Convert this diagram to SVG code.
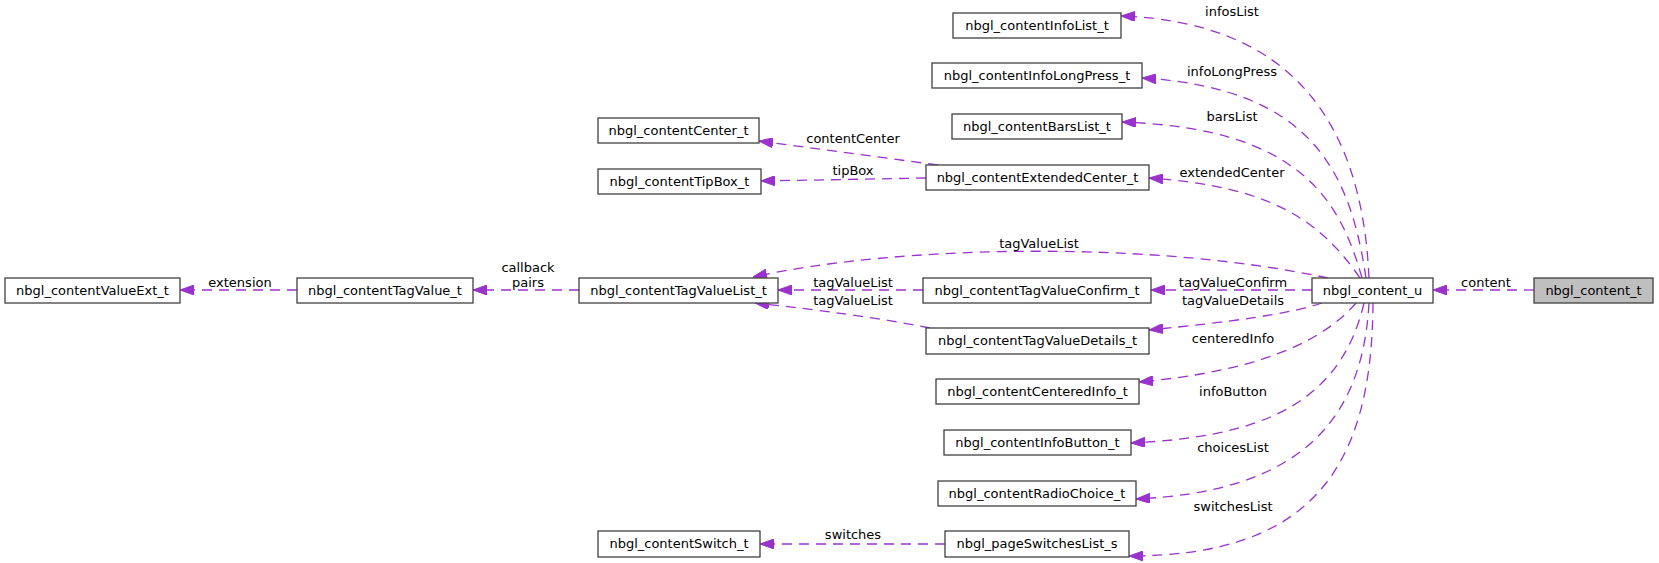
<svg xmlns="http://www.w3.org/2000/svg" width="1659" height="563" viewBox="0 0 1659 563">
<style>
.node rect{fill:#fff;stroke:#404040;stroke-width:1.3}
.node.main rect{fill:#bfbfbf}
text{font-family:"DejaVu Sans",sans-serif;font-size:13px;fill:#000}
.node text{text-anchor:middle}
.edges path{fill:none;stroke:#9a32cd;stroke-width:1.3;stroke-dasharray:10,7}
.lbl text{text-anchor:middle}
</style>
<defs>
<marker id="ah" viewBox="0 0 14 10" refX="14" refY="5" markerWidth="14" markerHeight="10" markerUnits="userSpaceOnUse" orient="auto">
<path d="M0,0 L14,5 L0,10 z" fill="#9a32cd" stroke="#9a32cd" stroke-width="1"/>
</marker>
</defs>
<rect width="1659" height="563" fill="#fff"/>
<g class="edges">
<path marker-end="url(#ah)" d="M1369,278 C1362,120 1290,22 1121,16"/>
<path marker-end="url(#ah)" d="M1366,278 C1350,170 1310,88 1142,78"/>
<path marker-end="url(#ah)" d="M1362,278 C1340,200 1300,128 1122,122"/>
<path marker-end="url(#ah)" d="M1360,278 C1320,220 1270,186 1149,178"/>
<path marker-end="url(#ah)" d="M1328,278 C1150,240 900,245 753,277"/>
<path marker-end="url(#ah)" d="M1312,290 L1151,290"/>
<path marker-end="url(#ah)" d="M1322,303 C1290,314 1230,322 1149,330"/>
<path marker-end="url(#ah)" d="M1356,303 C1320,345 1250,372 1139,382"/>
<path marker-end="url(#ah)" d="M1364,303 C1340,405 1260,437 1131,443"/>
<path marker-end="url(#ah)" d="M1369,303 C1362,430 1290,492 1136,499"/>
<path marker-end="url(#ah)" d="M1373,303 C1372,470 1310,556 1129,556"/>
<path marker-end="url(#ah)" d="M1534,290 L1433,290"/>
<path marker-end="url(#ah)" d="M938,165 L759,141"/>
<path marker-end="url(#ah)" d="M926,178 L761,181"/>
<path marker-end="url(#ah)" d="M923,290 L778,290"/>
<path marker-end="url(#ah)" d="M930,328 C880,318 820,310 755,303"/>
<path marker-end="url(#ah)" d="M579,290 L473,290"/>
<path marker-end="url(#ah)" d="M297,290 L180,290"/>
<path marker-end="url(#ah)" d="M945,544 L760,544"/>
</g>
<g class="lbl">
<text x="1232" y="16">infosList</text>
<text x="1232" y="76">infoLongPress</text>
<text x="1232" y="121">barsList</text>
<text x="1232" y="177">extendedCenter</text>
<text x="1039" y="248">tagValueList</text>
<text x="1233" y="287">tagValueConfirm</text>
<text x="1233" y="305">tagValueDetails</text>
<text x="1233" y="343">centeredInfo</text>
<text x="1233" y="396">infoButton</text>
<text x="1233" y="452">choicesList</text>
<text x="1233" y="511">switchesList</text>
<text x="1486" y="287">content</text>
<text x="853" y="143">contentCenter</text>
<text x="853" y="175">tipBox</text>
<text x="853" y="287">tagValueList</text>
<text x="853" y="305">tagValueList</text>
<text x="528" y="272">callback</text>
<text x="528" y="287">pairs</text>
<text x="240" y="287">extension</text>
<text x="853" y="539">switches</text>
</g>
<g id="n_content_t" class="node main"><rect x="1534" y="278" width="119" height="25"/><text x="1593.5" y="295">nbgl_content_t</text></g>
<g id="n_content_u" class="node"><rect x="1312" y="278" width="121" height="25"/><text x="1372.5" y="295">nbgl_content_u</text></g>
<g id="n_infoList" class="node"><rect x="953" y="13" width="168" height="25"/><text x="1037" y="30">nbgl_contentInfoList_t</text></g>
<g id="n_infoLongPress" class="node"><rect x="932" y="63" width="210" height="25"/><text x="1037" y="80">nbgl_contentInfoLongPress_t</text></g>
<g id="n_barsList" class="node"><rect x="952" y="114" width="170" height="25"/><text x="1037" y="131">nbgl_contentBarsList_t</text></g>
<g id="n_extendedCenter" class="node"><rect x="926" y="165" width="223" height="25"/><text x="1037.5" y="182">nbgl_contentExtendedCenter_t</text></g>
<g id="n_center" class="node"><rect x="598" y="118" width="161" height="25"/><text x="678.5" y="135">nbgl_contentCenter_t</text></g>
<g id="n_tipBox" class="node"><rect x="598" y="169" width="163" height="25"/><text x="679.5" y="186">nbgl_contentTipBox_t</text></g>
<g id="n_tagValueConfirm" class="node"><rect x="923" y="278" width="228" height="25"/><text x="1037" y="295">nbgl_contentTagValueConfirm_t</text></g>
<g id="n_tagValueDetails" class="node"><rect x="926" y="328" width="223" height="26"/><text x="1037.5" y="345">nbgl_contentTagValueDetails_t</text></g>
<g id="n_centeredInfo" class="node"><rect x="936" y="379" width="203" height="25"/><text x="1037.5" y="396">nbgl_contentCenteredInfo_t</text></g>
<g id="n_infoButton" class="node"><rect x="944" y="430" width="187" height="25"/><text x="1037.5" y="447">nbgl_contentInfoButton_t</text></g>
<g id="n_radioChoice" class="node"><rect x="938" y="481" width="198" height="25"/><text x="1037" y="498">nbgl_contentRadioChoice_t</text></g>
<g id="n_pageSwitchesList" class="node"><rect x="945" y="531" width="184" height="26"/><text x="1037" y="548">nbgl_pageSwitchesList_s</text></g>
<g id="n_switch" class="node"><rect x="598" y="531" width="162" height="26"/><text x="679" y="548">nbgl_contentSwitch_t</text></g>
<g id="n_tagValueList" class="node"><rect x="579" y="278" width="199" height="25"/><text x="678.5" y="295">nbgl_contentTagValueList_t</text></g>
<g id="n_tagValue" class="node"><rect x="297" y="278" width="176" height="25"/><text x="385" y="295">nbgl_contentTagValue_t</text></g>
<g id="n_valueExt" class="node"><rect x="5" y="278" width="175" height="25"/><text x="92.5" y="295">nbgl_contentValueExt_t</text></g>
</svg>
